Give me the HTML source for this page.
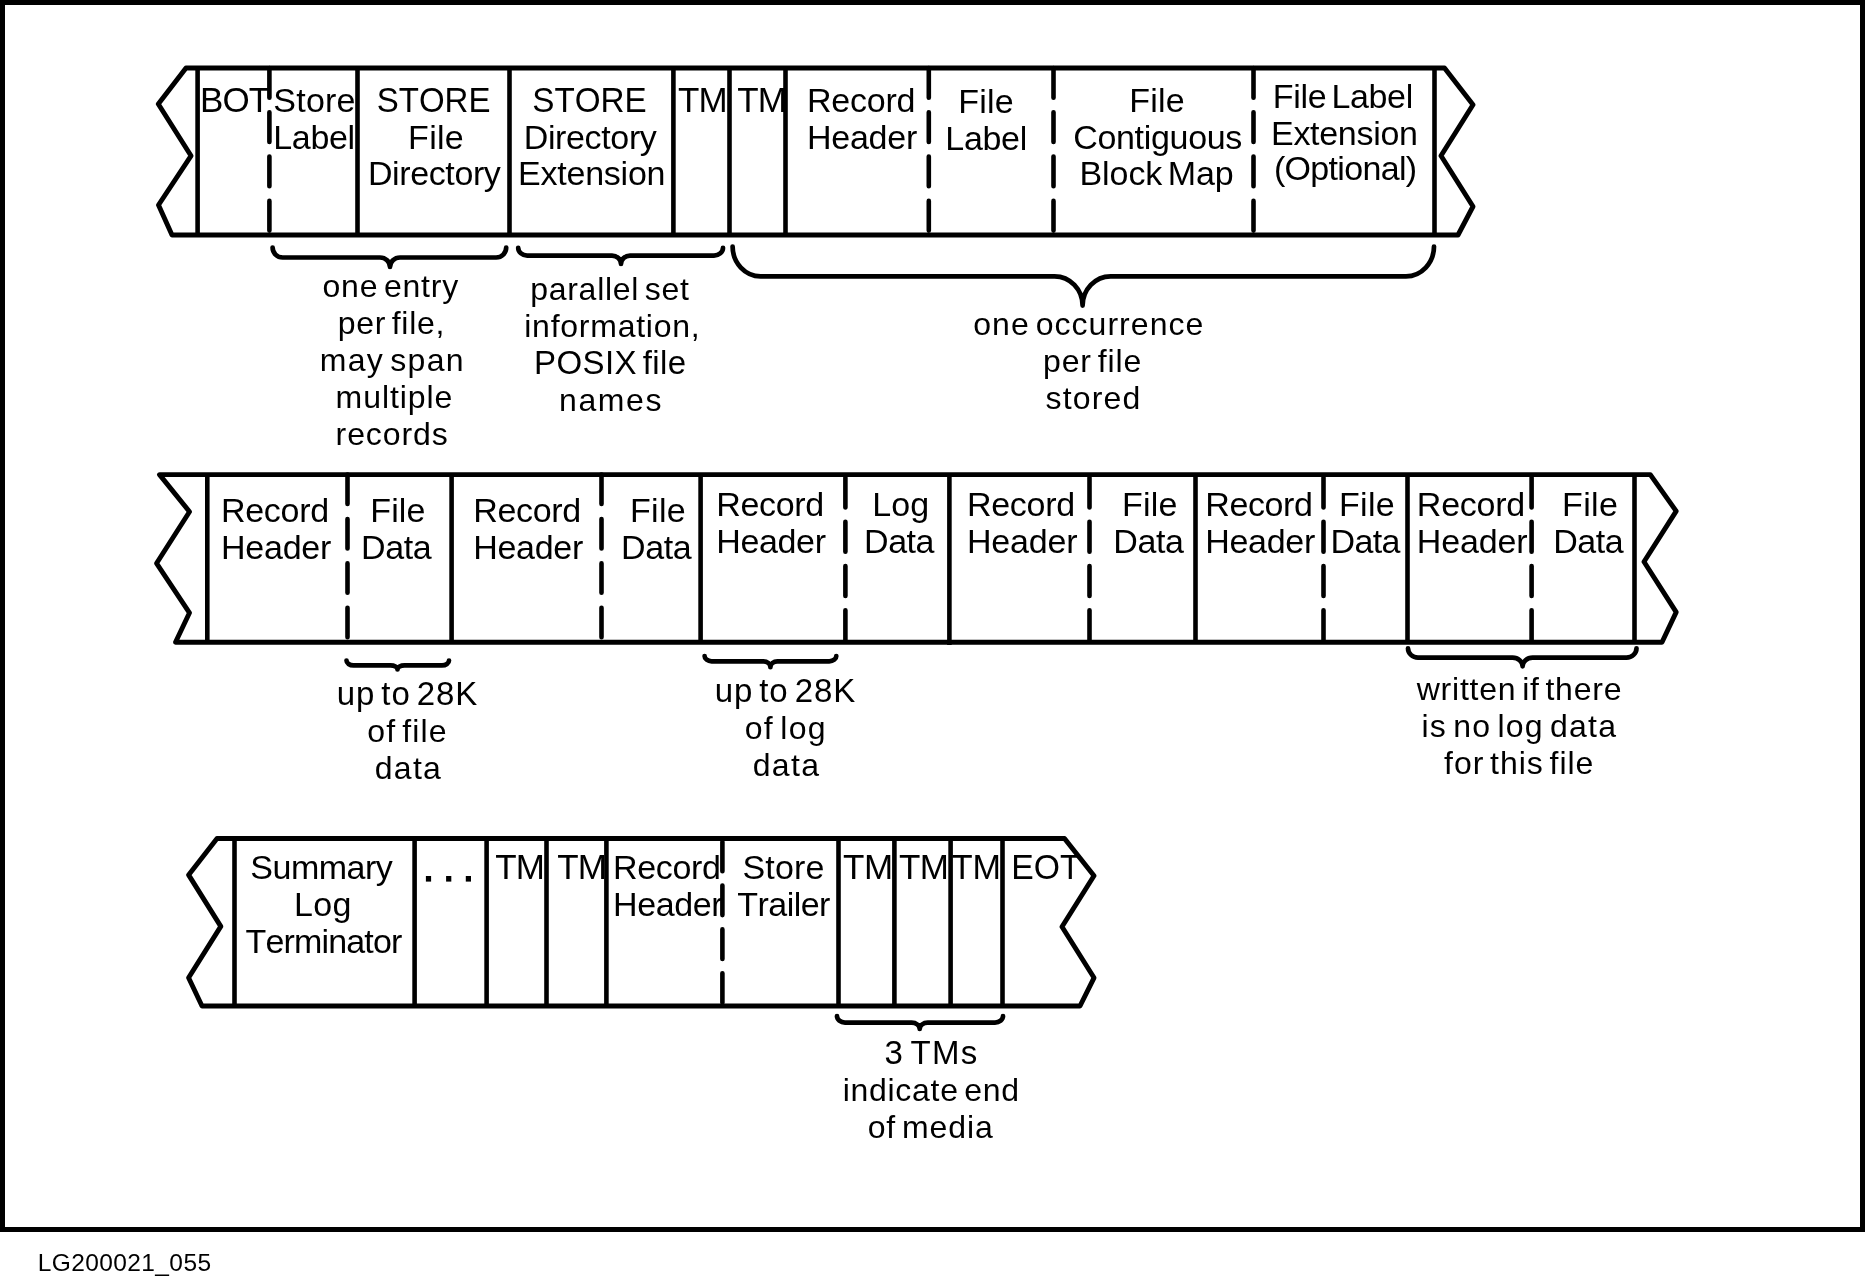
<!DOCTYPE html>
<html><head><meta charset="utf-8"><style>
html,body{margin:0;padding:0;background:#fff;overflow:hidden}
svg{display:block;will-change:transform}
text{font-family:"Liberation Sans",sans-serif;fill:#000;font-kerning:none}
.s line,.s path{stroke:#000;stroke-width:4.6;fill:none;stroke-linejoin:round}
.s line.d{stroke-linecap:round}
.s path.o{stroke-width:4.9}
.s path.b{stroke-linecap:round;stroke-linejoin:round;stroke-width:4.7}
</style></head><body>
<svg width="1865" height="1278" viewBox="0 0 1865 1278">
<rect x="0" y="0" width="1865" height="1278" fill="#fff"/>
<rect x="2.5" y="2.5" width="1860" height="1227" fill="none" stroke="#000" stroke-width="5"/>
<g class="s">
<path class="o" d="M186,68 L1444.5,68 L1473,104.8 L1441,155.8 L1473,206.5 L1458,235 L172,235 L158.5,205 L191,155.8 L158.3,104 Z"/>
<line x1="197.6" y1="68" x2="197.6" y2="235"/>
<line x1="357.5" y1="68" x2="357.5" y2="235"/>
<line x1="509.5" y1="68" x2="509.5" y2="235"/>
<line x1="673.4" y1="68" x2="673.4" y2="235"/>
<line x1="729.5" y1="68" x2="729.5" y2="235"/>
<line x1="785.5" y1="68" x2="785.5" y2="235"/>
<line x1="1434.5" y1="68" x2="1434.5" y2="235"/>
<line class="d" x1="269.4" y1="68" x2="269.4" y2="235" stroke-dasharray="29.7 14.6"/>
<line class="d" x1="928.8" y1="68" x2="928.8" y2="235" stroke-dasharray="29.7 14.6"/>
<line class="d" x1="1053.5" y1="68" x2="1053.5" y2="235" stroke-dasharray="29.7 14.6"/>
<line class="d" x1="1253.5" y1="68" x2="1253.5" y2="235" stroke-dasharray="29.7 14.6"/>
<path class="o" d="M159.5,474.6 L1650.3,474.6 L1676.2,511.1 L1644,561.8 L1676.2,612.1 L1662,642.2 L175.5,642.2 L189.5,612.8 L156.6,563.3 L189.5,511.7 Z"/>
<line x1="207.3" y1="474.6" x2="207.3" y2="642.2"/>
<line x1="451.6" y1="474.6" x2="451.6" y2="642.2"/>
<line x1="700.6" y1="474.6" x2="700.6" y2="642.2"/>
<line x1="1195.5" y1="474.6" x2="1195.5" y2="642.2"/>
<line x1="1407.5" y1="474.6" x2="1407.5" y2="642.2"/>
<line x1="1634.5" y1="474.6" x2="1634.5" y2="642.2"/>
<line x1="949.4" y1="474.6" x2="949.4" y2="645"/>
<line class="d" x1="347.5" y1="474.6" x2="347.5" y2="642.2" stroke-dasharray="29.4 15"/>
<line class="d" x1="601.5" y1="474.6" x2="601.5" y2="642.2" stroke-dasharray="29.4 15"/>
<line class="d" x1="845.4" y1="477.6" x2="845.4" y2="642.2" stroke-dasharray="29.9 14.3"/>
<line class="d" x1="1089.5" y1="477.6" x2="1089.5" y2="642.2" stroke-dasharray="29.9 14.3"/>
<line class="d" x1="1323.5" y1="477.6" x2="1323.5" y2="642.2" stroke-dasharray="29.9 14.3"/>
<line class="d" x1="1531.6" y1="477.6" x2="1531.6" y2="642.2" stroke-dasharray="29.9 14.3"/>
<path class="o" d="M217,838.5 L1064.5,838.5 L1094,875.7 L1062,926.8 L1094,977.8 L1080,1006 L202,1006 L188.6,977.8 L220.8,926.4 L188.6,874.9 Z"/>
<line x1="234.5" y1="838.5" x2="234.5" y2="1006"/>
<line x1="414.6" y1="838.5" x2="414.6" y2="1006"/>
<line x1="486.6" y1="838.5" x2="486.6" y2="1006"/>
<line x1="546.5" y1="838.5" x2="546.5" y2="1006"/>
<line x1="606.4" y1="838.5" x2="606.4" y2="1006"/>
<line x1="838.5" y1="838.5" x2="838.5" y2="1006"/>
<line x1="894.4" y1="838.5" x2="894.4" y2="1006"/>
<line x1="950.6" y1="838.5" x2="950.6" y2="1006"/>
<line x1="1002.5" y1="838.5" x2="1002.5" y2="1006"/>
<line class="d" x1="722.4" y1="841.8" x2="722.4" y2="1006" stroke-dasharray="29.5 14.3"/>
<path class="b" d="M272.6,247.6 C272.6,253.04 277.10,257.5 282.6,257.5 L380,257.5 C385.50,257.5 390,261.77 390,267 C390,261.77 394.50,257.5 400,257.5 L496.2,257.5 C501.70,257.5 506.2,253.04 506.2,247.6"/>
<path class="b" d="M518.2,247.8 C518.2,252.09 522.25,255.6 527.2,255.6 L612,255.6 C616.95,255.6 621,259.38 621,264 C621,259.38 625.05,255.6 630,255.6 L714,255.6 C718.95,255.6 723,252.09 723,247.8"/>
<path class="b" d="M732.6,246.5 C732.6,262.89 745.20,276.3 760.6,276.3 L1054.6,276.3 C1070.00,276.3 1082.6,289.49 1082.6,305.6 C1082.6,289.49 1095.20,276.3 1110.6,276.3 L1406,276.3 C1421.40,276.3 1434,262.89 1434,246.5"/>
<path class="b" d="M346.5,660.5 C346.5,663.19 349.65,665.4 353.5,665.4 L390.5,665.4 C394.35,665.4 397.5,667.20 397.5,669.4 C397.5,667.20 400.65,665.4 404.5,665.4 L442,665.4 C445.85,665.4 449,663.19 449,660.5"/>
<path class="b" d="M704.6,656 C704.6,658.91 707.75,661.3 711.6,661.3 L763.4,661.3 C767.25,661.3 770.4,663.96 770.4,667.2 C770.4,663.96 773.55,661.3 777.4,661.3 L829.3,661.3 C833.15,661.3 836.3,658.91 836.3,656"/>
<path class="b" d="M1408,648.3 C1408,653.41 1412.50,657.6 1418,657.6 L1512.6,657.6 C1518.10,657.6 1522.6,661.51 1522.6,666.3 C1522.6,661.51 1527.10,657.6 1532.6,657.6 L1626.5,657.6 C1632.00,657.6 1636.5,653.41 1636.5,648.3"/>
<path class="b" d="M837,1016 C837,1019.63 840.60,1022.6 845,1022.6 L911.7,1022.6 C916.10,1022.6 919.7,1025.48 919.7,1029 C919.7,1025.48 923.30,1022.6 927.7,1022.6 L995,1022.6 C999.40,1022.6 1003,1019.63 1003,1016"/>
</g>
<rect x="425.9" y="876" width="5.2" height="5.6"/><rect x="446.1" y="876" width="5.2" height="5.6"/><rect x="465.8" y="876" width="5.2" height="5.6"/>
<text x="199.93" y="112.00" font-size="35" letter-spacing="-0.837">BOT</text>
<text x="273.36" y="112.00" font-size="34" letter-spacing="0.223">Store</text>
<text x="273.21" y="149.00" font-size="34" letter-spacing="-0.307">Label</text>
<text transform="translate(378.20,112) scale(0.9432,1)" x="-1.59" y="0" font-size="35">STORE</text>
<text x="408.11" y="149.00" font-size="34" letter-spacing="0.272">File</text>
<text x="367.91" y="185.00" font-size="34" letter-spacing="-0.383">Directory</text>
<text transform="translate(533.80,112) scale(0.9491,1)" x="-1.59" y="0" font-size="35">STORE</text>
<text x="523.71" y="149.00" font-size="34" letter-spacing="-0.358">Directory</text>
<text x="518.11" y="185.00" font-size="34" letter-spacing="-0.240">Extension</text>
<text x="678.11" y="112.00" font-size="35" letter-spacing="-0.877">TM</text>
<text x="737.21" y="112.00" font-size="35" letter-spacing="-0.877">TM</text>
<text x="807.01" y="112.00" font-size="34" letter-spacing="-0.245">Record</text>
<text x="807.01" y="149.00" font-size="34" letter-spacing="-0.252">Header</text>
<text x="958.21" y="113.00" font-size="34" letter-spacing="0.205">File</text>
<text x="945.31" y="150.00" font-size="34" letter-spacing="-0.307">Label</text>
<text x="1129.21" y="112.00" font-size="34" letter-spacing="0.238">File</text>
<text x="1073.17" y="149.00" font-size="34" letter-spacing="-0.317">Contiguous</text>
<text x="1079.41" y="185.00" font-size="34" letter-spacing="-0.051" word-spacing="-4.00">Block Map</text>
<text x="1272.81" y="108.00" font-size="34" letter-spacing="-0.329" word-spacing="-4.00">File Label</text>
<text x="1271.01" y="145.00" font-size="34" letter-spacing="-0.302">Extension</text>
<text x="1273.89" y="180.00" font-size="34" letter-spacing="-0.674">(Optional)</text>
<text x="220.91" y="522.00" font-size="34" letter-spacing="-0.265">Record</text>
<text x="220.91" y="559.00" font-size="34" letter-spacing="-0.212">Header</text>
<text x="370.21" y="522.00" font-size="34" letter-spacing="0.172">File</text>
<text x="361.11" y="559.00" font-size="34" letter-spacing="-0.410">Data</text>
<text x="473.21" y="522.00" font-size="34" letter-spacing="-0.325">Record</text>
<text x="473.21" y="559.00" font-size="34" letter-spacing="-0.292">Header</text>
<text x="630.01" y="522.00" font-size="34" letter-spacing="0.305">File</text>
<text x="621.11" y="559.00" font-size="34" letter-spacing="-0.410">Data</text>
<text x="716.21" y="515.60" font-size="34" letter-spacing="-0.325">Record</text>
<text x="716.21" y="552.70" font-size="34" letter-spacing="-0.352">Header</text>
<text x="872.21" y="515.60" font-size="34" letter-spacing="0.176">Log</text>
<text x="864.11" y="552.70" font-size="34" letter-spacing="-0.476">Data</text>
<text x="966.91" y="515.60" font-size="34" letter-spacing="-0.265">Record</text>
<text x="966.91" y="552.70" font-size="34" letter-spacing="-0.172">Header</text>
<text x="1121.91" y="515.60" font-size="34" letter-spacing="0.272">File</text>
<text x="1113.31" y="552.70" font-size="34" letter-spacing="-0.410">Data</text>
<text x="1205.21" y="515.60" font-size="34" letter-spacing="-0.365">Record</text>
<text x="1205.21" y="552.70" font-size="34" letter-spacing="-0.292">Header</text>
<text x="1339.01" y="515.60" font-size="34" letter-spacing="0.305">File</text>
<text x="1330.41" y="552.70" font-size="34" letter-spacing="-0.576">Data</text>
<text x="1416.81" y="516.00" font-size="34" letter-spacing="-0.225">Record</text>
<text x="1416.81" y="552.50" font-size="34" letter-spacing="-0.132">Header</text>
<text x="1562.11" y="516.00" font-size="34" letter-spacing="0.338">File</text>
<text x="1553.21" y="552.50" font-size="34" letter-spacing="-0.476">Data</text>
<text x="250.36" y="879.00" font-size="34" letter-spacing="-0.525">Summary</text>
<text x="294.01" y="916.00" font-size="34" letter-spacing="0.326">Log</text>
<text x="245.44" y="953.00" font-size="34" letter-spacing="-0.827">Terminator</text>
<text x="495.31" y="879.00" font-size="35" letter-spacing="-0.877">TM</text>
<text x="557.21" y="879.00" font-size="35" letter-spacing="-0.877">TM</text>
<text x="613.01" y="879.00" font-size="34" letter-spacing="-0.325">Record</text>
<text x="613.01" y="916.00" font-size="34" letter-spacing="-0.392">Header</text>
<text x="742.46" y="879.00" font-size="34" letter-spacing="0.198">Store</text>
<text x="737.24" y="916.00" font-size="34" letter-spacing="-0.535">Trailer</text>
<text x="843.11" y="879.00" font-size="35" letter-spacing="-0.577">TM</text>
<text x="899.01" y="879.00" font-size="35" letter-spacing="-0.577">TM</text>
<text transform="translate(952.50,879) scale(0.9770,1)" x="-0.79" y="0" font-size="35">TM</text>
<text transform="translate(1014.00,879) scale(0.9638,1)" x="-2.87" y="0" font-size="35">EOT</text>
<text x="322.46" y="297.00" font-size="32" letter-spacing="0.798" word-spacing="-4.00">one entry</text>
<text x="337.74" y="334.00" font-size="32" letter-spacing="0.712" word-spacing="-4.00">per file,</text>
<text x="319.68" y="371.00" font-size="32" letter-spacing="1.310" word-spacing="-4.00">may span</text>
<text x="335.57" y="408.00" font-size="32" letter-spacing="0.940">multiple</text>
<text x="335.57" y="445.00" font-size="32" letter-spacing="0.913">records</text>
<text x="530.24" y="300.00" font-size="32" letter-spacing="0.713" word-spacing="-4.00">parallel set</text>
<text x="524.26" y="337.00" font-size="32" letter-spacing="0.748">information,</text>
<text x="533.99" y="374.00" font-size="33" letter-spacing="0.439" word-spacing="-4.00">POSIX file</text>
<text x="559.08" y="411.00" font-size="32" letter-spacing="1.584">names</text>
<text x="973.26" y="335.00" font-size="32" letter-spacing="1.038" word-spacing="-4.00">one occurrence</text>
<text x="1042.94" y="372.00" font-size="32" letter-spacing="0.891" word-spacing="-4.00">per file</text>
<text x="1045.51" y="409.00" font-size="32" letter-spacing="1.163">stored</text>
<text x="336.66" y="705.00" font-size="33" letter-spacing="0.929" word-spacing="-4.00">up to 28K</text>
<text x="367.36" y="742.00" font-size="32" letter-spacing="1.097" word-spacing="-4.00">of file</text>
<text x="374.76" y="779.00" font-size="32" letter-spacing="1.287">data</text>
<text x="714.66" y="702.00" font-size="33" letter-spacing="0.917" word-spacing="-4.00">up to 28K</text>
<text x="744.76" y="739.00" font-size="32" letter-spacing="1.325" word-spacing="-4.00">of log</text>
<text x="752.66" y="776.00" font-size="32" letter-spacing="1.388">data</text>
<text x="1416.65" y="700.00" font-size="32" letter-spacing="0.794" word-spacing="-4.00">written if there</text>
<text x="1421.46" y="737.00" font-size="32" letter-spacing="1.245" word-spacing="-4.00">is no log data</text>
<text x="1444.05" y="774.00" font-size="32" letter-spacing="0.954" word-spacing="-4.00">for this file</text>
<text x="884.54" y="1064.00" font-size="33" letter-spacing="1.245" word-spacing="-4.00">3 TMs</text>
<text x="842.66" y="1101.00" font-size="32" letter-spacing="0.711" word-spacing="-4.00">indicate end</text>
<text x="867.66" y="1138.00" font-size="32" letter-spacing="0.916" word-spacing="-4.00">of media</text>
<text x="37.79" y="1271.00" font-size="24.5" letter-spacing="0.391">LG200021_055</text>
</svg>
</body></html>
